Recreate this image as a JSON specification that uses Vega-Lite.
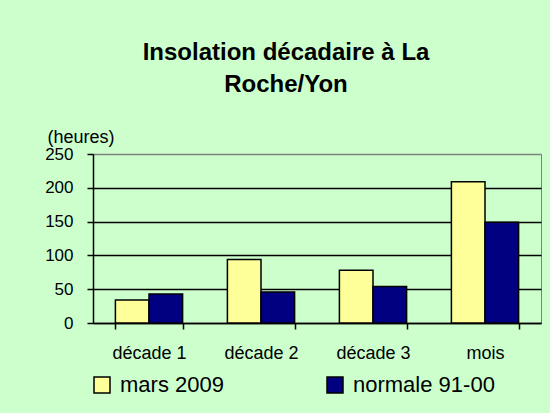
{
  "$schema": "https://vega.github.io/schema/vega-lite/v6.json",
  "autosize": {"type": "none"},
  "width": 448,
  "height": 169,
  "padding": {"left": 93, "top": 154, "right": 9, "bottom": 90},
  "background": "#CCFFCC",
  "title": {
    "text": ["Insolation décadaire à La", "Roche/Yon"],
    "font": "Liberation Sans",
    "fontSize": 24,
    "fontWeight": "bold",
    "color": "black",
    "lineHeight": 32,
    "anchor": "middle",
    "dx": -31,
    "offset": 31
  },
  "data": {
    "values": [
      {"periode": "décade 1", "serie": "mars 2009", "heures": 34},
      {"periode": "décade 1", "serie": "normale 91-00", "heures": 43},
      {"periode": "décade 2", "serie": "mars 2009", "heures": 94},
      {"periode": "décade 2", "serie": "normale 91-00", "heures": 46},
      {"periode": "décade 3", "serie": "mars 2009", "heures": 78},
      {"periode": "décade 3", "serie": "normale 91-00", "heures": 54},
      {"periode": "mois", "serie": "mars 2009", "heures": 209},
      {"periode": "mois", "serie": "normale 91-00", "heures": 149}
    ]
  },
  "config": {
    "view": {"stroke": "#808080", "strokeWidth": 1},
    "font": "Liberation Sans"
  },
  "mark": {"type": "bar", "stroke": "black", "strokeWidth": 1.5},
  "encoding": {
    "x": {
      "field": "periode",
      "type": "nominal",
      "sort": null,
      "scale": {"paddingInner": 0.4, "paddingOuter": 0.2},
      "axis": {
        "title": null,
        "labelAngle": 0,
        "labelFont": "Liberation Sans",
        "labelFontSize": 18,
        "labelColor": "black",
        "labelPadding": 15,
        "domainColor": "black",
        "domainWidth": 1.5,
        "tickColor": "black",
        "tickWidth": 1.5,
        "tickSize": 6,
        "tickBand": "extent"
      }
    },
    "xOffset": {"field": "serie", "type": "nominal"},
    "y": {
      "field": "heures",
      "type": "quantitative",
      "scale": {"domain": [0, 250]},
      "axis": {
        "values": [0, 50, 100, 150, 200, 250],
        "title": "(heures)",
        "titleAngle": 0,
        "titleAlign": "left",
        "titleBaseline": "middle",
        "titleX": -46,
        "titleY": -17,
        "titleFont": "Liberation Sans",
        "titleFontSize": 18,
        "titleFontWeight": "normal",
        "titleColor": "black",
        "labelFont": "Liberation Sans",
        "labelFontSize": 17,
        "labelColor": "black",
        "labelPadding": 14,
        "domainColor": "black",
        "domainWidth": 1.5,
        "tickColor": "black",
        "tickWidth": 1.5,
        "tickSize": 6,
        "grid": true,
        "gridColor": {"condition": {"test": "datum.value === 250", "value": "#808080"}, "value": "black"},
        "gridWidth": 1.5
      }
    },
    "color": {
      "field": "serie",
      "type": "nominal",
      "scale": {"domain": ["mars 2009", "normale 91-00"], "range": ["#FFFF99", "#000080"]},
      "legend": {
        "title": null,
        "orient": "none",
        "direction": "horizontal",
        "legendX": -2,
        "legendY": 220,
        "symbolType": "square",
        "symbolSize": 256,
        "symbolStrokeColor": "black",
        "symbolStrokeWidth": 1.5,
        "labelFont": "Liberation Sans",
        "labelFontSize": 22,
        "labelColor": "black",
        "labelOffset": 7,
        "labelLimit": 300,
        "columnPadding": 100
      }
    }
  }
}
